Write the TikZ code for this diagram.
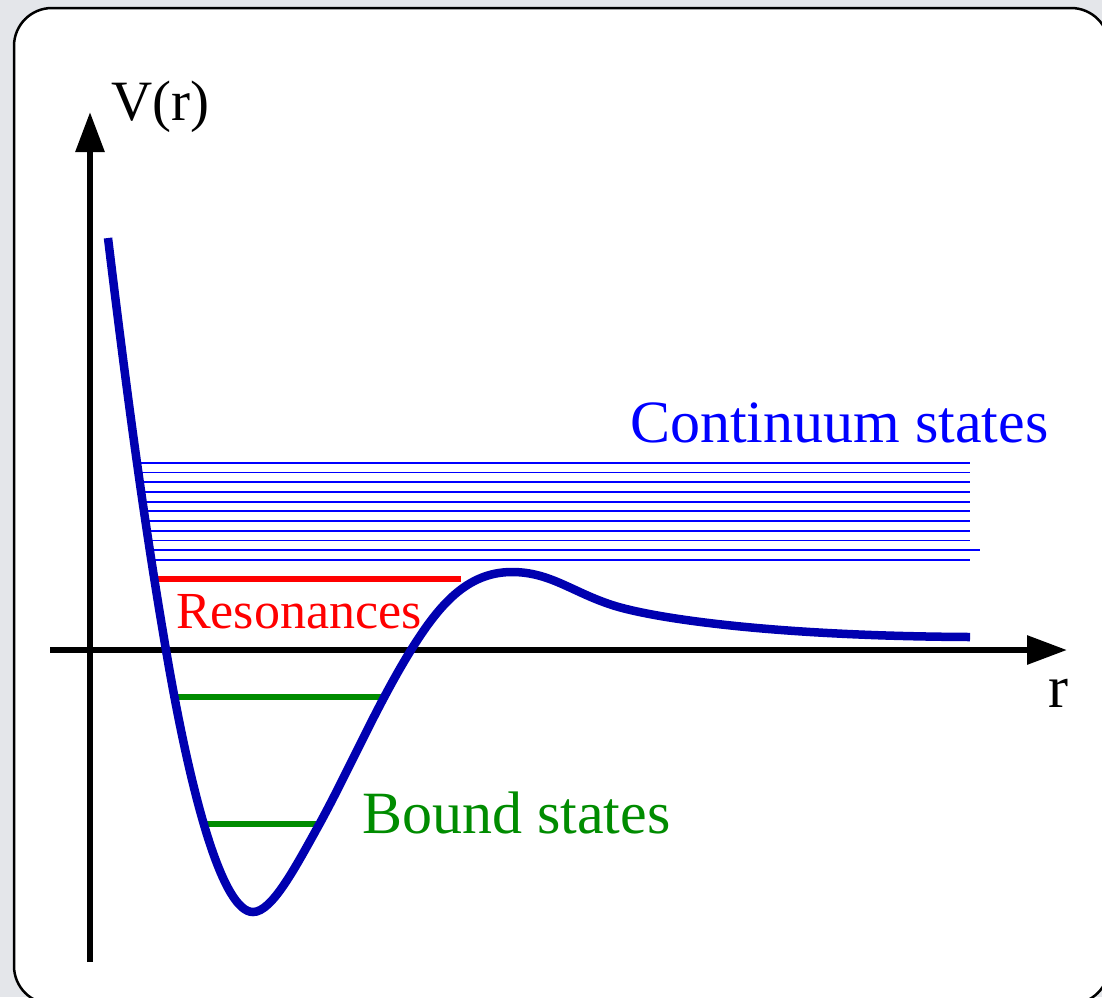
\documentclass[tikz,border=0pt]{standalone}
\usepackage{fontspec}
\setmainfont{Liberation Serif}
\usetikzlibrary{arrows.meta}
\definecolor{bggray}{RGB}{228,230,234}
\definecolor{curveblue}{RGB}{0,0,176}
\definecolor{contblue}{RGB}{0,0,255}
\definecolor{resred}{RGB}{255,0,0}
\definecolor{boundgreen}{RGB}{0,140,0}
\tikzset{
  axisline/.style={line width=6pt,-{Triangle[length=40pt,width=28pt]}},
  potcurve/.style={curveblue,line width=8.5pt},
  contline/.style={contblue,line width=1.8pt},
  resline/.style={resred,line width=6pt},
  boundline/.style={boundgreen,line width=5.8pt},
  lbl/.style={inner sep=0pt,anchor=base west}
}
\begin{document}
\begin{tikzpicture}[x=1pt,y=-1pt]
\useasboundingbox (0,0) rectangle (1102,997);
\fill[bggray] (0,0) rectangle (1102,997);
\begin{scope}
\clip (0,0) rectangle (1102,997);
\draw[line width=2.5pt,fill=white,rounded corners=38pt] (14,8) rectangle (1109,1004);
\end{scope}
% axes
\coordinate (ybot) at (90,962);
\coordinate (ytop) at (90,112);
\coordinate (xleft) at (50,650);
\coordinate (xright) at (1067,650);
\draw[axisline] (ybot) -- (ytop);
\draw[axisline] (xleft) -- (xright);
% continuum lines
\foreach \i in {0,...,10}{
  \pgfmathsetmacro{\yy}{462.7+9.73*\i}
  \pgfmathsetmacro{\xl}{141+0.75*\i}
  \pgfmathsetmacro{\xr}{(\i==9)?980:970}
  \draw[contline] (\xl,\yy) -- (\xr,\yy);
}
% resonance
\draw[resline] (158,579) -- (461,579);
% bound states
\draw[boundline] (176,697) -- (382,697);
\draw[boundline] (206,824) -- (318,824);
% potential curve
\draw[potcurve] (108,238)
  .. controls (125,378) and (142,510) .. (166,650)
  .. controls (191.5,800) and (223,912) .. (253,912)
  .. controls (272,912) and (295,868) .. (320,823)
  .. controls (350,768) and (377,705) .. (411,650)
  .. controls (439,605) and (467,572) .. (512,572)
  .. controls (550,572) and (572,592) .. (612,605)
  .. controls (652,618) and (770,636) .. (970,637);
% labels
\node[lbl] (vr) at (111,120) {\fontsize{57pt}{60pt}\selectfont V(r)};
\node[lbl] (rl) at (1048,707) {\fontsize{60pt}{62pt}\selectfont r};
\node[lbl,text=contblue] (cont) at (630,442) {\fontsize{60pt}{62pt}\selectfont Continuum states};
\node[lbl,text=resred] (res) at (176,628) {\fontsize{52pt}{54pt}\selectfont Resonances};
\node[lbl,text=boundgreen] (bound) at (362,833) {\fontsize{60pt}{62pt}\selectfont Bound states};
\end{tikzpicture}
\end{document}
